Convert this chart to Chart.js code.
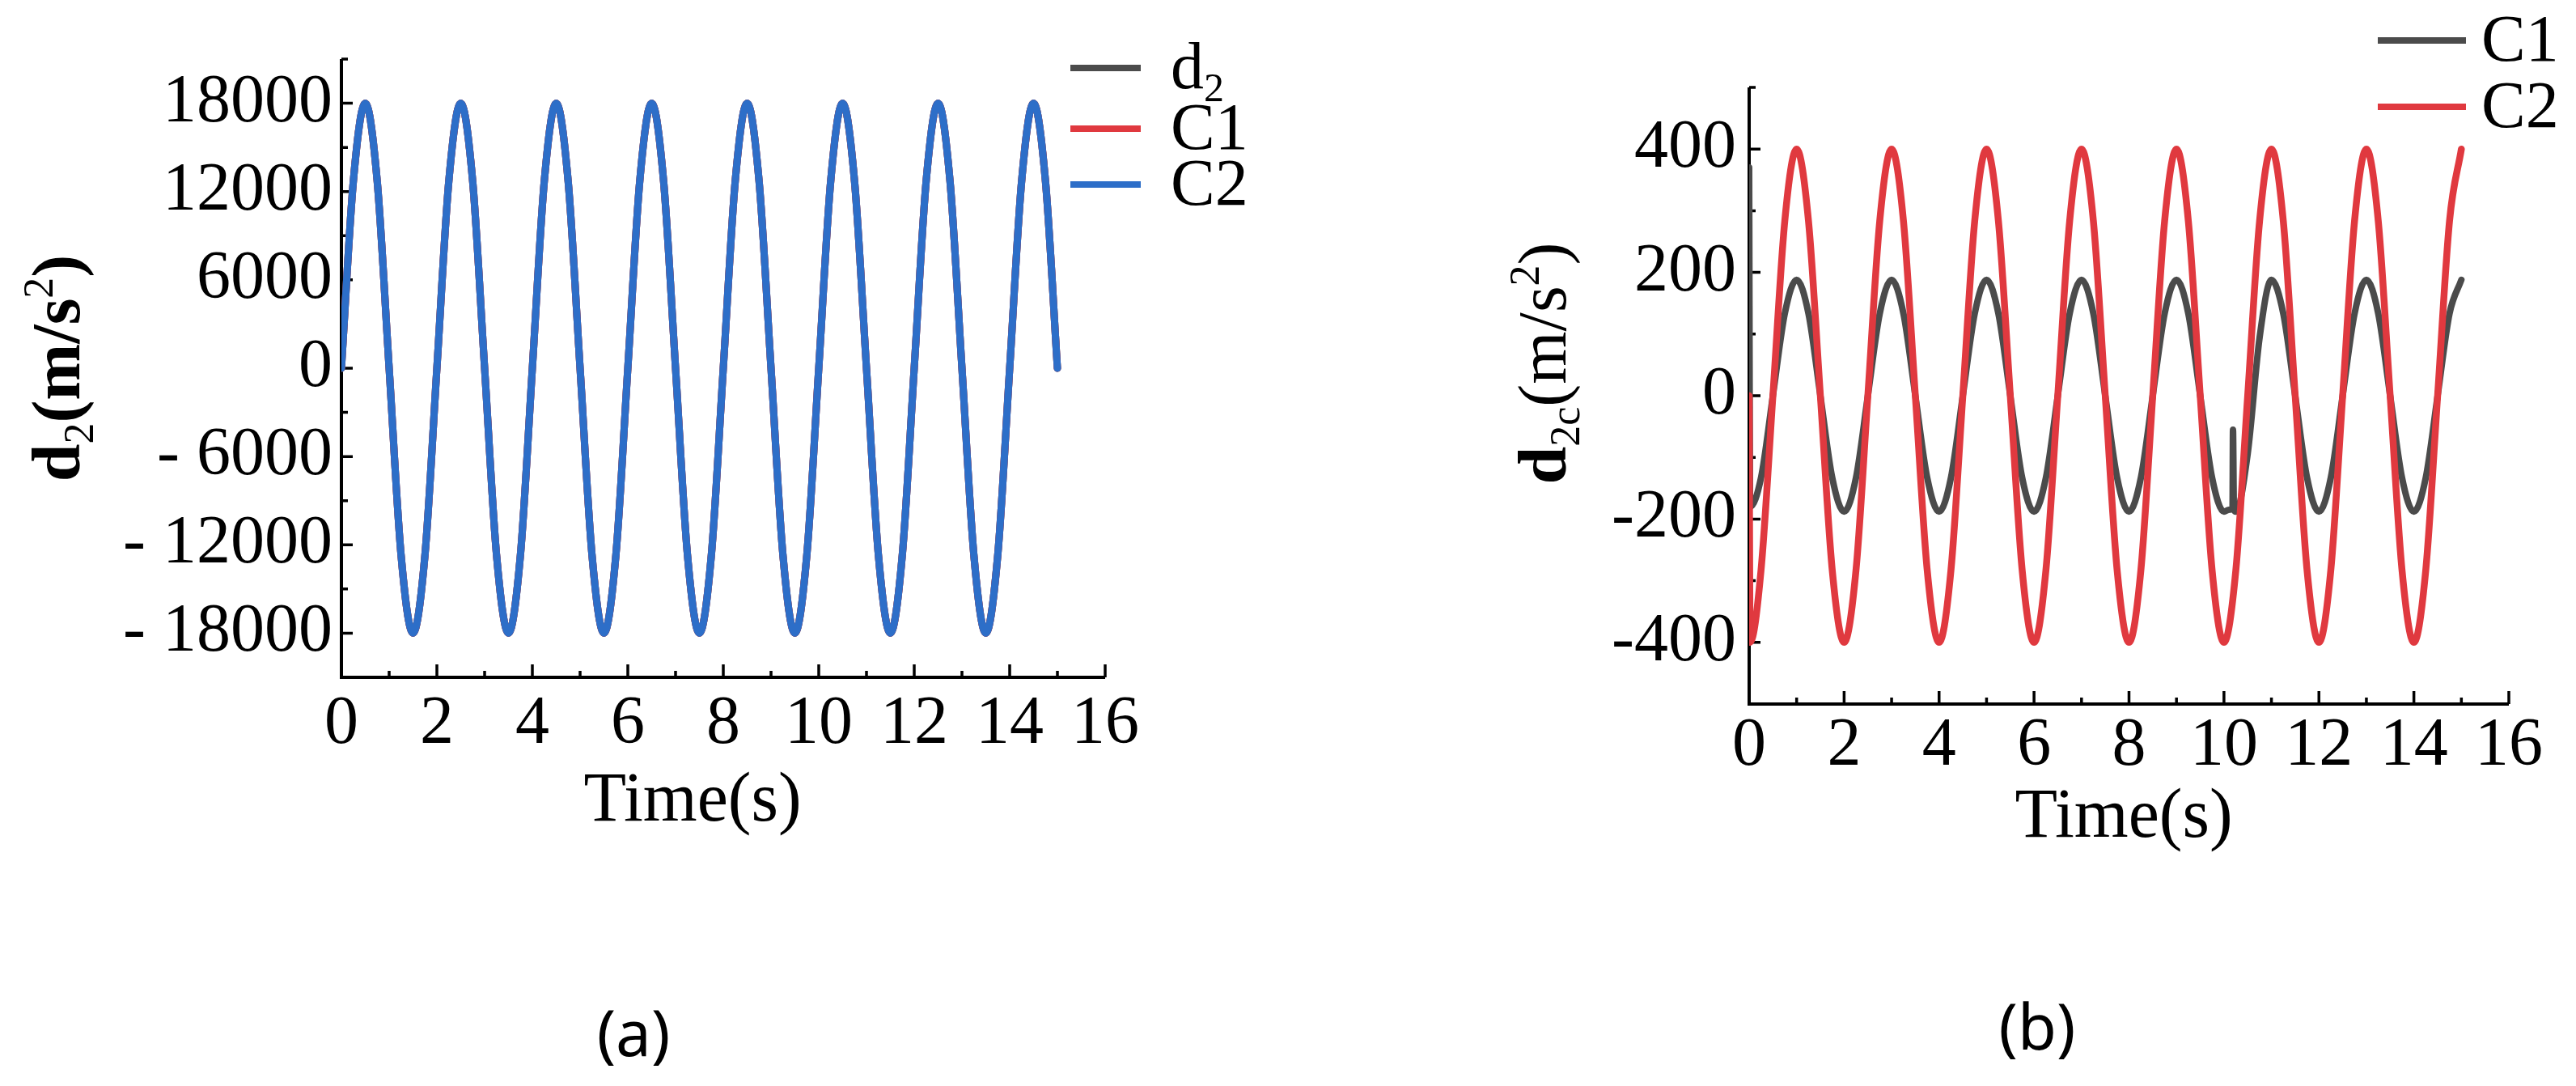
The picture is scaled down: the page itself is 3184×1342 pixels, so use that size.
<!DOCTYPE html>
<html>
<head>
<meta charset="utf-8">
<script src="https://cdn.jsdelivr.net/npm/chart.js@4.4.1/dist/chart.umd.min.js"></script>
<style>
  body { margin: 0; background: #fff; width: 3184px; height: 1342px; position: relative; overflow: hidden; }
  .panel { position: absolute; top: 0; }
  .panel canvas { display: block; }
  .cap { position: absolute; font-family: 'Noto Sans', 'Open Sans', sans-serif; font-size: 78px; color: #000;
         transform: translate(-50%, -50%); line-height: 1; }
</style>
</head>
<body>
<div class="panel" style="left:0"><canvas id="chartA" width="1700" height="1100"></canvas></div>
<div class="panel" style="left:1740px"><canvas id="chartB" width="1444" height="1100"></canvas></div>
<div class="cap" style="left:783px;top:1275px">(a)</div>
<div class="cap" style="left:2518px;top:1267px">(b)</div>
<script>
// ---- data ----

// panel (a): time in s, every quarter second
const timeA = [0,0.25,0.5,0.75,1,1.25,1.5,1.75,2,2.25,2.5,2.75,3,3.25,3.5,3.75,4,4.25,4.5,4.75,
  5,5.25,5.5,5.75,6,6.25,6.5,6.75,7,7.25,7.5,7.75,8,8.25,8.5,8.75,9,9.25,9.5,9.75,
  10,10.25,10.5,10.75,11,11.25,11.5,11.75,12,12.25,12.5,12.75,13,13.25,13.5,13.75,14,14.25,14.5,14.75,15];

// C2 (blue) in panel (a); d2 and C1 lie exactly under it
const c2A = [0,12700,18000,12700,0,-12700,-18000,-12700, 0,12700,18000,12700,0,-12700,-18000,-12700,
  0,12700,18000,12700,0,-12700,-18000,-12700, 0,12700,18000,12700,0,-12700,-18000,-12700,
  0,12700,18000,12700,0,-12700,-18000,-12700, 0,12700,18000,12700,0,-12700,-18000,-12700,
  0,12700,18000,12700,0,-12700,-18000,-12700, 0,12700,18000,12700,0];
const d2A = c2A;
const c1A = c2A;

// panel (b): C2 (red), starts with a jump from 0 to -400
const timeC2 = [0,0.02,0.25,0.5,0.75,1,1.25,1.5,1.75,2,2.25,2.5,2.75,3,3.25,3.5,3.75,4,4.25,4.5,4.75,
  5,5.25,5.5,5.75,6,6.25,6.5,6.75,7,7.25,7.5,7.75,8,8.25,8.5,8.75,9,9.25,9.5,9.75,
  10,10.25,10.5,10.75,11,11.25,11.5,11.75,12,12.25,12.5,12.75,13,13.25,13.5,13.75,14,14.25,14.5,14.75,15];
const valC2 = [0,-400, -283,0,283,400,283,0,-283,-400, -283,0,283,400,283,0,-283,-400,
  -283,0,283,400,283,0,-283,-400, -283,0,283,400,283,0,-283,-400, -283,0,283,400,283,0,-283,-400,
  -283,0,283,400,283,0,-283,-400, -283,0,283,400,283,0,-283,-400, -283,0,283,400];

// panel (b): C1 (gray), start jump, spike near 10.2 s and a steeper rise after it
const timeC1 = [0,0.02,0.25,0.5,0.75,1,1.25,1.5,1.75,2,2.25,2.5,2.75,3,3.25,3.5,3.75,4,4.25,4.5,4.75,
  5,5.25,5.5,5.75,6,6.25,6.5,6.75,7,7.25,7.5,7.75,8,8.25,8.5,8.75,9,9.25,9.5,9.75,
  10,10.1,10.18,10.19,10.21,10.25,10.5,10.75,11,11.25,11.5,11.75,12,12.25,12.5,12.75,13,13.25,13.5,13.75,14,14.25,14.5,14.75,15];
const valC1 = [370,-180, -133,0,133,188,133,0,-133,-188, -133,0,133,188,133,0,-133,-188,
  -133,0,133,188,133,0,-133,-188, -133,0,133,188,133,0,-133,-188, -133,0,133,188,133,0,-133,-188,
  -185,-184,-55,-185,
  -188,-94,94,188,133,0,-133,-188, -133,0,133,188,133,0,-133,-188, -133,0,133,188];

// ticks
const xMajor = [0,2,4,6,8,10,12,14,16];
const xMinor = [1,3,5,7,9,11,13,15];
const yMajorA = [-18000,-12000,-6000,0,6000,12000,18000];
const yMinorA = [-21000,-15000,-9000,-3000,3000,9000,15000,21000];
const yMajorB = [-400,-200,0,200,400];
const yMinorB = [-500,-300,-100,100,300,500];

const GRAY = '#4b4b4b', RED = '#e0393f', BLUE = '#2d6ec8';
const serif = "'Liberation Serif', 'Times New Roman', serif";

function pts(xs, ys) {
    return xs.map((x, i) => ({ x: x, y: ys[i] }));
}

// draw text made of pieces (normal / bold / sub / sup), centred or left aligned
function drawRich(ctx, parts, x, y, o) {
    const fontFor = p => (p.b ? 'bold ' : '') + (p.k ? o.small : o.size) + 'px ' + serif;
    let total = 0;
    const widths = parts.map(p => { ctx.font = fontFor(p); const w = ctx.measureText(p.t).width; total += w; return w; });
    ctx.save();
    ctx.translate(x, y);
    if (o.rotate) ctx.rotate(o.rotate);
    ctx.fillStyle = '#000';
    ctx.textBaseline = 'alphabetic';
    ctx.textAlign = 'left';
    let cx = o.align === 'left' ? 0 : -total / 2;
    const base = o.size * 0.3;
    parts.forEach((p, i) => {
        ctx.font = fontFor(p);
        const dy = p.k === 'sub' ? o.size * 0.2 : p.k === 'sup' ? -o.size * 0.4 : 0;
        ctx.fillText(p.t, cx, base + dy);
        cx += widths[i];
    });
    ctx.restore();
}

// axis lines with inward major/minor ticks, drawn under the curves
const axisFrame = {
    id: 'axisFrame',
    beforeDatasetsDraw(chart, args, o) {
        const { ctx, chartArea: a } = chart;
        const xs = chart.scales.x, ys = chart.scales.y;
        ctx.save();
        ctx.strokeStyle = '#000';
        ctx.lineWidth = 4;
        ctx.beginPath();
        ctx.moveTo(a.left, a.top);
        ctx.lineTo(a.left, a.bottom);
        ctx.lineTo(a.right, a.bottom);
        ctx.stroke();
        ctx.lineWidth = 3.5;
        ctx.beginPath();
        o.xMajor.forEach(v => { const p = xs.getPixelForValue(v); ctx.moveTo(p, a.bottom); ctx.lineTo(p, a.bottom - 16); });
        o.xMinor.forEach(v => { const p = xs.getPixelForValue(v); ctx.moveTo(p, a.bottom); ctx.lineTo(p, a.bottom - 8); });
        o.yMajor.forEach(v => { const p = ys.getPixelForValue(v); ctx.moveTo(a.left, p); ctx.lineTo(a.left + 14, p); });
        o.yMinor.forEach(v => { const p = ys.getPixelForValue(v); ctx.moveTo(a.left, p); ctx.lineTo(a.left + 8, p); });
        ctx.stroke();
        ctx.restore();
    }
};

// axis titles and legend
const decor = {
    id: 'decor',
    afterDraw(chart, args, o) {
        const ctx = chart.ctx;
        drawRich(ctx, o.yTitle, o.yTitlePos[0], o.yTitlePos[1], { size: 84, small: 52, rotate: -Math.PI / 2 });
        drawRich(ctx, [{ t: 'Time(s)' }], o.xTitlePos[0], o.xTitlePos[1], { size: 86, small: 52 });
        o.legend.forEach(item => {
            const ds = chart.data.datasets[item.ds];
            ctx.save();
            ctx.strokeStyle = ds.borderColor;
            ctx.lineWidth = 8;
            ctx.beginPath();
            ctx.moveTo(o.legendX[0], item.y);
            ctx.lineTo(o.legendX[1], item.y);
            ctx.stroke();
            ctx.restore();
            drawRich(ctx, item.parts, o.legendX[2], item.y, { size: 82, small: 50, align: 'left' });
        });
    }
};

function makeChart(id, datasets, yMajor, yMinor, yMin, yMax, yLabel, xPad, pad, yWidth, xHeight, decorOpts) {
    return new Chart(document.getElementById(id), {
        type: 'line',
        data: { datasets: datasets },
        options: {
            responsive: false,
            animation: false,
            events: [],
            layout: { padding: pad },
            elements: { point: { radius: 0 }, line: { cubicInterpolationMode: 'monotone', borderCapStyle: 'round' } },
            scales: {
                x: {
                    type: 'linear', min: 0, max: 16,
                    afterBuildTicks: s => { s.ticks = xMajor.map(v => ({ value: v })); },
                    afterFit: s => { s.height = xHeight; },
                    grid: { display: false, drawTicks: false },
                    border: { display: false },
                    ticks: { autoSkip: false, maxRotation: 0, padding: xPad, color: '#000', font: { family: serif, size: 84 } }
                },
                y: {
                    type: 'linear', min: yMin, max: yMax,
                    afterBuildTicks: s => { s.ticks = yMajor.map(v => ({ value: v })); },
                    afterFit: s => { s.width = yWidth; },
                    grid: { display: false, drawTicks: false },
                    border: { display: false },
                    ticks: { autoSkip: false, padding: yLabel.pad, color: '#000', font: { family: serif, size: 84 },
                             callback: yLabel.fmt }
                }
            },
            plugins: {
                legend: { display: false },
                tooltip: { enabled: false },
                axisFrame: { xMajor: xMajor, xMinor: xMinor, yMajor: yMajor, yMinor: yMinor },
                decor: decorOpts
            }
        },
        plugins: [axisFrame, decor]
    });
}

// panel (a)
makeChart('chartA', [
    { label: 'd2', data: pts(timeA, d2A), borderColor: GRAY, borderWidth: 9, order: 3 },
    { label: 'C1', data: pts(timeA, c1A), borderColor: RED, borderWidth: 9, order: 2 },
    { label: 'C2', data: pts(timeA, c2A), borderColor: BLUE, borderWidth: 9, order: 1 }
], yMajorA, yMinorA, -21000, 21000,
   { pad: 11, fmt: v => (v < 0 ? '- ' + Math.abs(v) : String(v)) }, 9,
   { left: 0, top: 73, right: 334, bottom: 63 }, 422, 200,
   {
       yTitle: [{ t: 'd', b: 1 }, { t: '2', k: 'sub' }, { t: '(m/s', b: 1 }, { t: '2', k: 'sup' }, { t: ')', b: 1 }],
       yTitlePos: [73, 455],
       xTitlePos: [856, 988],
       legendX: [1323, 1410, 1447],
       legend: [
           { ds: 0, y: 84, parts: [{ t: 'd' }, { t: '2', k: 'sub' }] },
           { ds: 1, y: 159, parts: [{ t: 'C1' }] },
           { ds: 2, y: 228, parts: [{ t: 'C2' }] }
       ]
   });

// panel (b)
makeChart('chartB', [
    { label: 'C1', data: pts(timeC1, valC1), borderColor: GRAY, borderWidth: 8, order: 2 },
    { label: 'C2', data: pts(timeC2, valC2), borderColor: RED, borderWidth: 8.5, order: 1 }
], yMajorB, yMinorB, -500, 500,
   { pad: 16, fmt: v => String(v) }, 3,
   { left: 0, top: 108, right: 83, bottom: 30 }, 422, 200,
   {
       yTitle: [{ t: 'd', b: 1 }, { t: '2c', k: 'sub' }, { t: '(m/s' }, { t: '2', k: 'sup' }, { t: ')' }],
       yTitlePos: [170, 449],
       xTitlePos: [885, 1008],
       legendX: [1199, 1308, 1327],
       legend: [
           { ds: 0, y: 50, parts: [{ t: 'C1' }] },
           { ds: 1, y: 132, parts: [{ t: 'C2' }] }
       ]
   });
</script>
</body>
</html>
